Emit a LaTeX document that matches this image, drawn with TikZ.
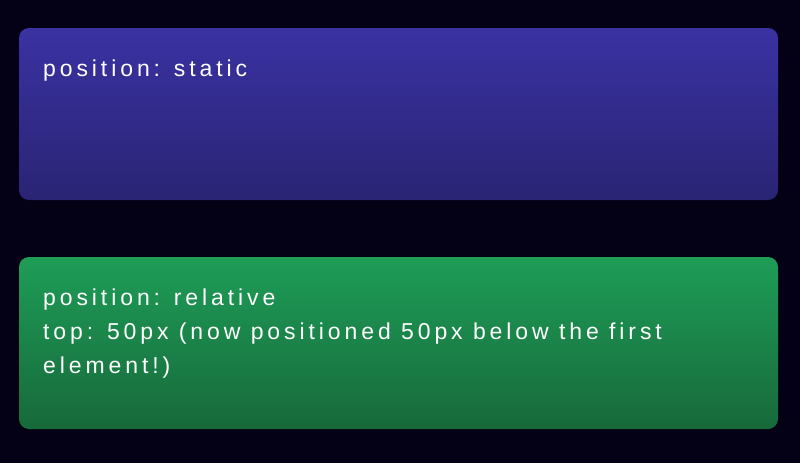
\documentclass[tikz,border=0pt]{standalone}
\usepackage{fontspec}
\setmainfont{Liberation Sans}[LetterSpace=17]
\usetikzlibrary{positioning}
\definecolor{pagebg}{RGB}{4,1,22}
\definecolor{bluetop}{RGB}{58,50,162}
\definecolor{bluemid}{RGB}{44,37,122}
\definecolor{bluebot}{RGB}{42,36,116}
\definecolor{greentop}{RGB}{30,157,87}
\definecolor{greenmid}{RGB}{25,118,65}
\definecolor{greenbot}{RGB}{23,105,58}
\tikzset{
  panel/.style={rounded corners=10pt, minimum width=759pt, minimum height=172pt, shading=axis},
  paneltext/.style={text=white, font=\fontsize{23}{34}\selectfont, align=left, inner sep=0pt}
}
\begin{document}
\begin{tikzpicture}[x=1pt,y=-1pt]
\tikzstyle{every node}+=[inner sep=0pt]
\fill [pagebg] (0,0) rectangle (800,463);
% first panel
\node [panel, top color=bluetop, middle color=bluemid, bottom color=bluebot] (staticbox) at (398.5,114) {};
\node [paneltext, anchor=base west] (statictext) at (43,76) {position: static};
% second panel (base is the last line)
\node [panel, top color=greentop, middle color=greenmid, bottom color=greenbot] (relbox) at (398.5,343) {};
\node [paneltext, anchor=base west] (reltext) at (43,373) {position: relative\\top: 50px (now positioned 50px below the first\\element!)};
\end{tikzpicture}
\end{document}
